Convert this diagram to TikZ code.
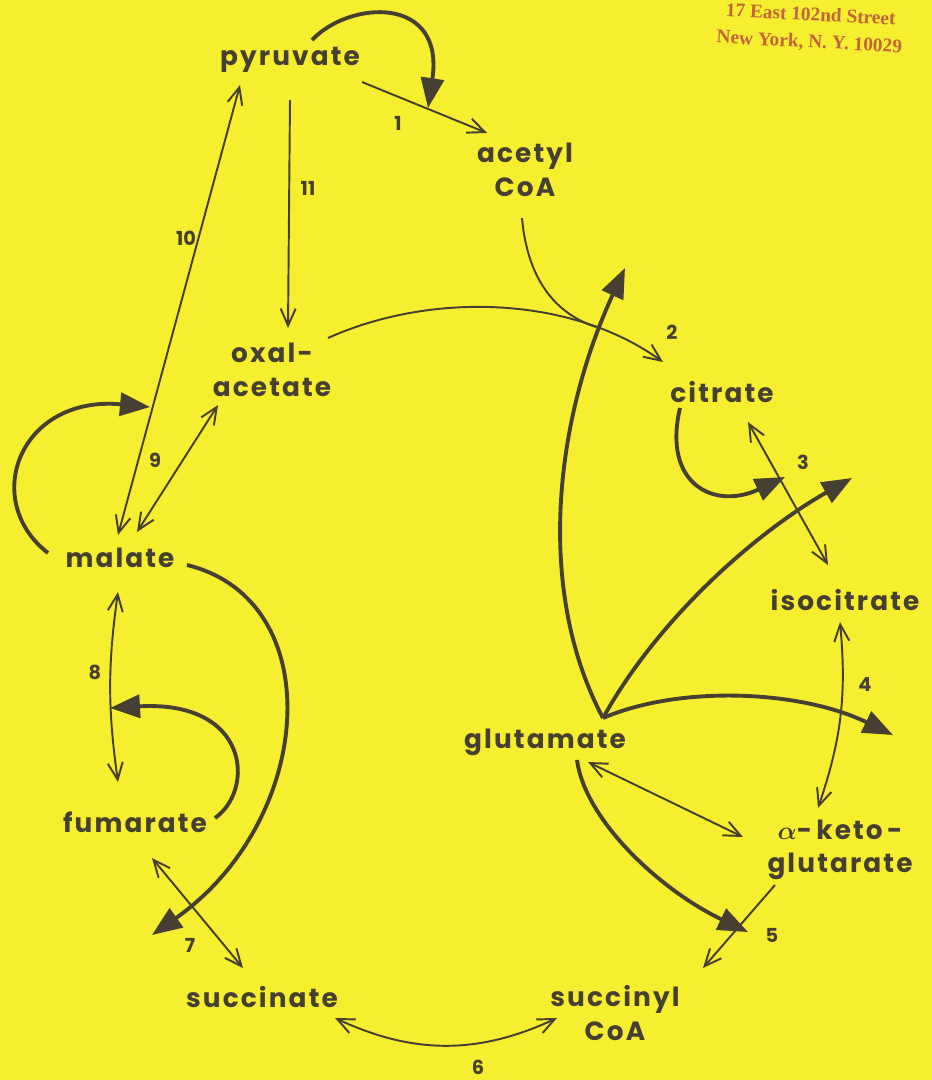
\documentclass[tikz,border=0pt]{standalone}
\usepackage{fontspec}
\usepackage{bm}
\setmainfont{Poppins}
\newfontfamily\metabfont{Poppins}[LetterSpace=8]
\newfontfamily\stampfont{Liberation Serif}
\usetikzlibrary{arrows.meta, positioning, calc}
\definecolor{paper}{RGB}{246,239,48}
\definecolor{ink}{RGB}{70,64,50}
\definecolor{stampred}{RGB}{196,100,58}
\tikzset{
    metab/.style={text=ink, font=\metabfont\bfseries\fontsize{15}{19}\selectfont, align=center, inner sep=1pt},
    enz/.style={text=ink, font=\bfseries\fontsize{11}{13}\selectfont, inner sep=1pt},
    stamp_text/.style={text=stampred, font=\stampfont\bfseries\fontsize{11}{15.5}\selectfont, rotate=-3, align=center, inner sep=0pt},
    arrow_rx/.style={draw=ink, line width=1.1pt, -{Straight Barb[length=3.4mm,width=3mm]}},
    arrow_rev/.style={draw=ink, line width=1.1pt, {Straight Barb[length=3.4mm,width=3mm]}-{Straight Barb[length=3.4mm,width=3mm]}},
    arrow_co/.style={draw=ink, line width=2.2pt, -{Triangle[length=6mm,width=4.6mm]}}
}

\begin{document}
\begin{tikzpicture}[x=0.02cm, y=-0.02cm]
            \fill[paper] (0,0) rectangle (932,1080);
            \useasboundingbox (0,0) rectangle (932,1080);

            % Address stamp
            \node (addr) [stamp_text] at (810,29) {17 East 102nd Street\\New York, N. Y. 10029};

            % Metabolites
            \node (pyr) [metab] at (290,60) {pyruvate};
            \node (acoa) [metab] at (525,170) {acetyl\\CoA};
            \node (oaa) [metab] at (272,370) {oxal-\\acetate};
            \node (cit) [metab] at (722,392) {citrate};
            \node (icit) [metab] at (845,600) {isocitrate};
            \node (glu) [metab] at (545,742) {glutamate};
            \node (akg) [metab] at (840,850) {$\bm{\alpha}$-\,keto\,-\\glutarate};
            \node (mal) [metab] at (120,558) {malate};
            \node (fum) [metab] at (135,822) {fumarate};
            \node (suc) [metab] at (262,997) {succinate};
            \node (scoa) [metab] at (615,1013) {succinyl\\CoA};

            % Reaction numbers
            \node (e1) [enz] at (398,123) {1};
            \node (e2) [enz] at (672,332) {2};
            \node (e3) [enz] at (803,462) {3};
            \node (e4) [enz] at (865,685) {4};
            \node (e5) [enz] at (772,935) {5};
            \node (e6) [enz] at (478,1067) {6};
            \node (e7) [enz] at (190,945) {7};
            \node (e8) [enz] at (95,672) {8};
            \node (e9) [enz] at (155,460) {9};
            \node (e10) [enz] at (186,238) {10};
            \node (e11) [enz] at (308,188) {11};

            % Cycle reactions
            \draw [arrow_rx] ($(pyr)+(72,22)$) -- ($(acoa)+(-38,-37)$);
            \draw [arrow_rx] ($(pyr)+(0,40)$) -- ($(oaa)+(16,-42)$);
            \draw [arrow_rev] ($(mal)+(-2,-23)$) -- ($(pyr)+(-50,25)$);
            \draw [arrow_rev] ($(oaa)+(-54,35)$) -- ($(mal)+(17,-26)$);
            \draw [arrow_rx] ($(oaa)+(56,-32)$) .. controls (430,292) and (570,295) .. coordinate[pos=0.78] (join2) ($(cit)+(-59,-30)$);
            \draw [draw=ink, line width=1.1pt] ($(acoa)+(-3,48)$) .. controls (528,285) and (560,315) .. (join2);
            \draw [arrow_rev] ($(cit)+(26,30)$) -- ($(icit)+(-17,-35)$);
            \draw [arrow_rev] ($(icit)+(-5,22)$) to[bend left=12] ($(akg)+(-22,-42)$);
            \draw [arrow_rev] ($(glu)+(43,20)$) -- ($(akg)+(-97,-13)$);
            \draw [arrow_rx] ($(akg)+(-65,35)$) -- ($(scoa)+(88,-45)$);
            \draw [arrow_rev] ($(suc)+(73,21)$) to[bend right=25] ($(scoa)+(-58,5)$);
            \draw [arrow_rev] ($(fum)+(17,36)$) -- ($(suc)+(-19,-29)$);
            \draw [arrow_rev] ($(mal)+(-2,34)$) to[bend right=8] ($(fum)+(-17,-40)$);

            % Coupled reactions
            \coordinate (tip1) at (428,108);
            \coordinate (tip3) at (785,477);
            \coordinate (tip5) at (748,932);
            \coordinate (tip7) at (152,935);
            \coordinate (tip8) at (110,708);
            \coordinate (tip10) at (150,407);
            \draw [arrow_co] ($(pyr)+(22,-20)$) .. controls (350,0) and (445,-5) .. (tip1);
            \draw [arrow_co] ($(mal)+(-72,-5)$) .. controls (-20,500) and (20,395) .. (tip10);
            \draw [arrow_co] ($(cit)+(-42,16)$) .. controls (662,485) and (715,510) .. (tip3);
            \draw [arrow_co] ($(mal)+(67,7)$) .. controls (330,600) and (315,820) .. (tip7);
            \draw [arrow_co] ($(fum)+(80,-4)$) .. controls (255,790) and (250,700) .. (tip8);
            \draw [arrow_co] ($(glu)+(32,18)$) .. controls (585,820) and (660,890) .. (tip5);

            % Glutamate branches
            \coordinate (gfork) at ($(glu)+(58,-24)$);
            \coordinate (tipA) at (625,268);
            \coordinate (tipB) at (852,478);
            \coordinate (tipC) at (893,735);
            \draw [arrow_co] (gfork) .. controls (535,590) and (555,420) .. (tipA);
            \draw [arrow_co] (gfork) .. controls (660,615) and (760,530) .. (tipB);
            \draw [arrow_co] (gfork) .. controls (680,685) and (800,690) .. (tipC);
\end{tikzpicture}
\end{document}
